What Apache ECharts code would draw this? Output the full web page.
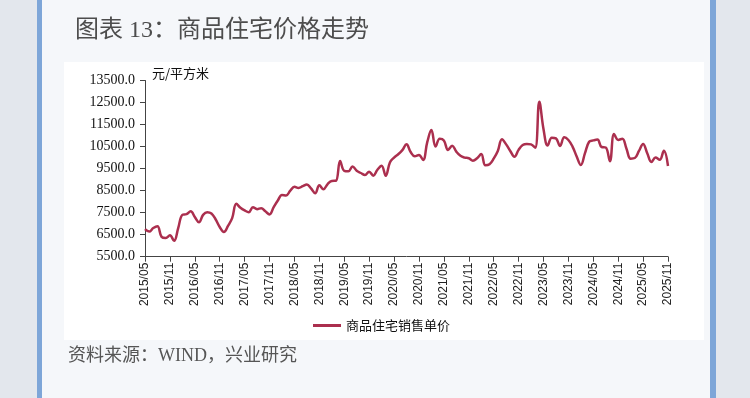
<!DOCTYPE html>
<html>
<head>
<meta charset="utf-8">
<script src="https://cdn.jsdelivr.net/npm/echarts@6/dist/echarts.min.js"></script>
<style>
  html, body { margin: 0; padding: 0; background: #e3e7ed; }
  #chart { width: 750px; height: 398px; }
</style>
</head>
<body>
<div id="chart"></div>
<script>
// months 2015/05 - 2025/11
const months = [
  "2015/05","2015/06","2015/07","2015/08","2015/09","2015/10","2015/11","2015/12",
  "2016/01","2016/02","2016/03","2016/04","2016/05","2016/06","2016/07","2016/08","2016/09","2016/10","2016/11","2016/12",
  "2017/01","2017/02","2017/03","2017/04","2017/05","2017/06","2017/07","2017/08","2017/09","2017/10","2017/11","2017/12",
  "2018/01","2018/02","2018/03","2018/04","2018/05","2018/06","2018/07","2018/08","2018/09","2018/10","2018/11","2018/12",
  "2019/01","2019/02","2019/03","2019/04","2019/05","2019/06","2019/07","2019/08","2019/09","2019/10","2019/11","2019/12",
  "2020/01","2020/02","2020/03","2020/04","2020/05","2020/06","2020/07","2020/08","2020/09","2020/10","2020/11","2020/12",
  "2021/01","2021/02","2021/03","2021/04","2021/05","2021/06","2021/07","2021/08","2021/09","2021/10","2021/11","2021/12",
  "2022/01","2022/02","2022/03","2022/04","2022/05","2022/06","2022/07","2022/08","2022/09","2022/10","2022/11","2022/12",
  "2023/01","2023/02","2023/03","2023/04","2023/05","2023/06","2023/07","2023/08","2023/09","2023/10","2023/11","2023/12",
  "2024/01","2024/02","2024/03","2024/04","2024/05","2024/06","2024/07","2024/08","2024/09","2024/10","2024/11","2024/12",
  "2025/01","2025/02","2025/03","2025/04","2025/05","2025/06","2025/07","2025/08","2025/09","2025/10","2025/11"
];

// 商品住宅销售单价 (元/平方米)
const price = [
  6750, 6640, 6800, 6880, 6400, 6350, 6470, 6220,
  6800, 7400, 7430, 7560, 7300, 7060, 7400, 7520, 7460, 7200, 6850, 6620,
  6900, 7250, 7900, 7720, 7600, 7520, 7750, 7660, 7700, 7560, 7420, 7750,
  8050, 8300, 8280, 8500, 8680, 8620, 8700, 8780, 8600, 8380, 8740, 8560,
  8800, 8940, 8950, 9840, 9400, 9380, 9600, 9400, 9300, 9210, 9360, 9180,
  9450, 9630, 9170, 9780, 10000, 10150, 10340, 10600, 10250, 10060, 10120, 9890,
  10700, 11250, 10500, 10850, 10780, 10350, 10540, 10270, 10080, 10000, 9970, 9860,
  9970, 10160, 9650, 9700, 9950, 10300, 10830, 10600, 10300, 10040, 10350, 10570,
  10620, 10600, 10450, 12540, 11300, 10550, 10900, 10870, 10530, 10920, 10800, 10500,
  10050, 9660, 10200, 10720, 10780, 10820, 10480, 10460, 9830, 11070, 10800, 10860,
  10400, 9950, 9980, 10300, 10620, 10200, 9800, 10000, 9900, 10310, 9620
];

const yTicks = { min: 5500, max: 13500, step: 1000 };
const seriesName = "商品住宅销售单价";
const titleText = "图表 13：商品住宅价格走势";
const sourceText = "资料来源：WIND，兴业研究";
const unitText = "元/平方米";

const lineColor = "#ab2f4e";
const chart = echarts.init(document.getElementById("chart"));

chart.setOption({
  animation: false,
  backgroundColor: "#e3e7ed",
  graphic: [
    { type: "rect", left: 42, top: 0, shape: { width: 668, height: 398 }, style: { fill: "#f5f7fa" }, z: -10 },
    { type: "rect", left: 37, top: 0, shape: { width: 5, height: 398 }, style: { fill: "#7ea6d8" }, z: -9 },
    { type: "rect", left: 710, top: 0, shape: { width: 6, height: 398 }, style: { fill: "#7ea6d8" }, z: -9 },
    { type: "rect", left: 64, top: 62, shape: { width: 640, height: 278 }, style: { fill: "#ffffff" }, z: -8 },
    {
      type: "text", left: 75, top: 19,
      style: { text: titleText, fill: "#4d4d4d", font: "24px 'Liberation Serif', 'Noto Sans CJK SC', serif" }
    },
    {
      type: "text", left: 152, top: 67,
      style: { text: unitText, fill: "#111", font: "13px 'Noto Sans CJK SC', sans-serif" }
    },
    {
      type: "text", left: 68, top: 347,
      style: { text: sourceText, fill: "#555", font: "18px 'Liberation Serif', 'Noto Sans CJK SC', serif" }
    }
  ],
  legend: {
    data: [seriesName],
    left: 308,
    top: 314,
    icon: "rect",
    itemWidth: 28,
    itemHeight: 3,
    itemGap: 6,
    textStyle: { fontSize: 13, color: "#111", fontFamily: "'Noto Sans CJK SC', sans-serif" }
  },
  grid: { left: 145, right: 82, top: 80.5, bottom: 141.3, containLabel: false },
  xAxis: {
    type: "category",
    data: months,
    boundaryGap: false,
    axisLine: { lineStyle: { color: "#444", width: 1 } },
    axisTick: { show: true, interval: 5, length: 5, lineStyle: { color: "#444" } },
    axisLabel: {
      interval: 5,
      rotate: 90,
      margin: 6,
      color: "#222",
      fontSize: 12,
      fontFamily: "'Liberation Sans', Arial, sans-serif"
    },
    splitLine: { show: false }
  },
  yAxis: {
    type: "value",
    min: yTicks.min,
    max: yTicks.max,
    interval: yTicks.step,
    axisLine: { show: true, lineStyle: { color: "#444", width: 1 } },
    axisTick: { show: true, length: 5, lineStyle: { color: "#444" } },
    axisLabel: {
      margin: 10,
      color: "#111",
      fontSize: 14,
      fontFamily: "'Liberation Serif', 'Times New Roman', serif",
      formatter: (v) => v.toFixed(1)
    },
    splitLine: { show: false }
  },
  series: [
    {
      name: seriesName,
      type: "line",
      data: price,
      smooth: 0.4,
      showSymbol: false,
      symbol: "none",
      lineStyle: { color: lineColor, width: 2.5 },
      itemStyle: { color: lineColor }
    }
  ]
});
</script>
</body>
</html>
